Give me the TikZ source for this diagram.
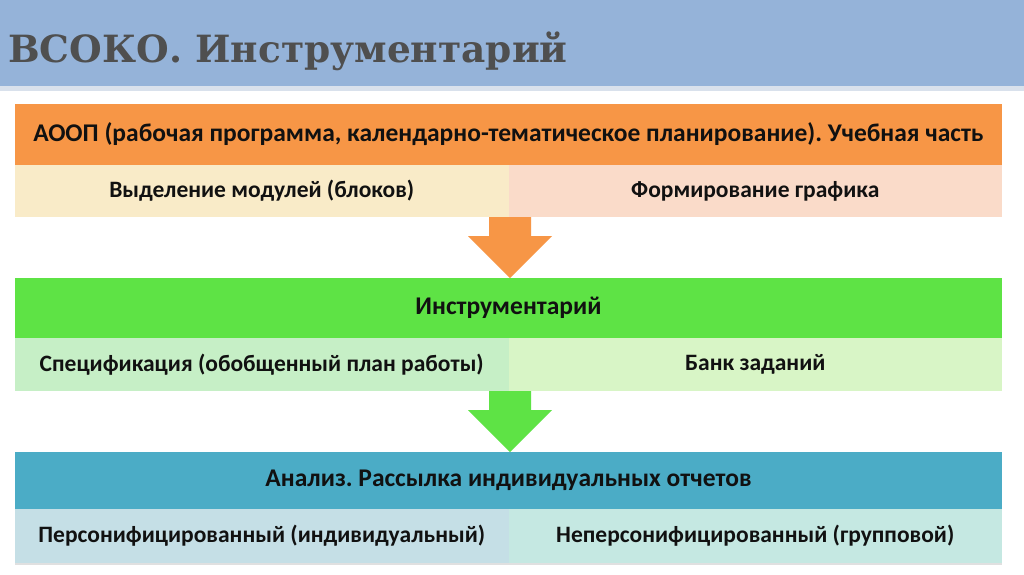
\documentclass[tikz,border=0pt]{standalone}
\usepackage{fontspec}
\setmainfont{Carlito}
\newfontfamily\titlefont{DejaVu Serif}
\frenchspacing
\definecolor{titlebar}{HTML}{95B3D9}
\definecolor{titleshadow}{HTML}{D9E1EC}
\definecolor{titletext}{HTML}{4F4F4F}
\definecolor{orangeH}{HTML}{F79646}
\definecolor{orangeL}{HTML}{F9EBC8}
\definecolor{orangeR}{HTML}{FADBC9}
\definecolor{greenH}{HTML}{5EE345}
\definecolor{greenL}{HTML}{C6EFC6}
\definecolor{greenR}{HTML}{D8F5C6}
\definecolor{tealH}{HTML}{4BACC6}
\definecolor{tealL}{HTML}{C5DFE6}
\definecolor{tealR}{HTML}{C5E8E2}
\definecolor{txt}{HTML}{111111}
\tikzset{
  hdr/.style={minimum width=987pt, minimum height=#1, inner sep=0pt, outer sep=0pt, anchor=north west, font=\fontsize{25.5}{28}\selectfont\bfseries, text=txt},
  cell/.style={minimum width=493.5pt, minimum height=#1, inner sep=0pt, outer sep=0pt, anchor=north west, font=\fontsize{23.5}{26}\selectfont\bfseries, text=txt}
}
\begin{document}
\begin{tikzpicture}[x=1pt,y=-1pt]
\useasboundingbox (0,0) rectangle (1024,574);
\fill[white] (0,0) rectangle (1024,574);
% title bar
\fill[titleshadow] (0,84) rectangle (1024,91);
\node[fill=titlebar, minimum width=1024pt, minimum height=86pt, inner sep=0pt, anchor=north west] (bar) at (0,0) {};
\node[anchor=base west, inner sep=0pt, text=titletext, font=\titlefont\fontsize{37.5}{40}\selectfont\bfseries] (title) at (8,62) {ВСОКО. Инструментарий};
% block 1
\node[hdr=61pt, fill=orangeH] (h1) at (15,104) {АООП (рабочая программа, календарно-тематическое планирование). Учебная часть};
\node[cell=52pt, fill=orangeL] (l1) at (15,165) {Выделение модулей (блоков)};
\node[cell=52pt, fill=orangeR] (r1) at (508.5,165) {Формирование графика};
% block 2
\node[hdr=60pt, fill=greenH] (h2) at (15,278) {Инструментарий};
\node[cell=53pt, fill=greenL] (l2) at (15,338) {Спецификация (обобщенный план работы)};
\node[cell=53pt, fill=greenR] (r2) at (508.5,338) {Банк заданий};
% block 3
\fill[black!12] (15,563) rectangle (1002,565);
\node[hdr=57pt, fill=tealH] (h3) at (15,452) {Анализ. Рассылка индивидуальных отчетов};
\node[cell=54pt, fill=tealL] (l3) at (15,509) {Персонифицированный (индивидуальный)};
\node[cell=54pt, fill=tealR] (r3) at (508.5,509) {Неперсонифицированный (групповой)};
% arrows
\coordinate (a1) at (510,217);
\fill[orangeH] ([xshift=-21pt]a1) -- ([xshift=21pt]a1) -- ([xshift=21pt,yshift=-19pt]a1) -- ([xshift=42pt,yshift=-19pt]a1) -- (h2.north -| a1) -- ([xshift=-42pt,yshift=-19pt]a1) -- ([xshift=-21pt,yshift=-19pt]a1) -- cycle;
\coordinate (a2) at (510,391);
\fill[greenH] ([xshift=-21pt]a2) -- ([xshift=21pt]a2) -- ([xshift=21pt,yshift=-19pt]a2) -- ([xshift=42pt,yshift=-19pt]a2) -- (h3.north -| a2) -- ([xshift=-42pt,yshift=-19pt]a2) -- ([xshift=-21pt,yshift=-19pt]a2) -- cycle;
\end{tikzpicture}
\end{document}
